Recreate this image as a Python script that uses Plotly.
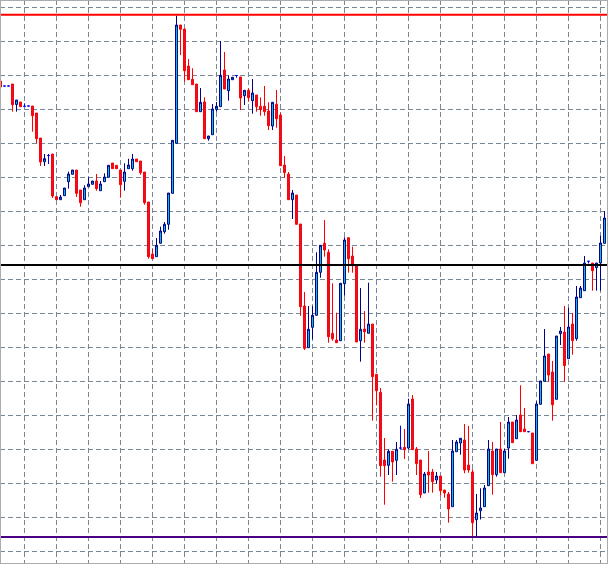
import numpy as np
import plotly.graph_objects as go

# Bar index (one candle per bar)
bar_index = list(range(152))

# Price values (chart price units)
open_ = [
    482, 477, 477, 479, 458.5, 461, 456.7, 457, 457, 450,
    425, 401.3, 407.5, 409, 366.3, 363.3, 367.3, 381.3, 388.7, 393,
    373, 363.3, 376.3, 378.7, 382, 372.3, 381.3, 385.7, 400, 397.7,
    393, 381.7, 394.3, 394.3, 404, 402, 391, 361, 309, 306.3,
    319.7, 331.3, 338.7, 369.7, 419.7, 538, 534, 497, 483.7, 479,
    451.3, 461, 424.3, 428.3, 453.7, 456.3, 493, 472.3, 483.3, 487.5,
    486, 467.3, 472.7, 462.3, 468, 456.7, 456.7, 452, 437, 458.7,
    448, 398, 389, 363.3, 368, 339, 257, 215.3, 235.7, 247.7,
    290.7, 319.7, 310.7, 229.7, 223, 222.3, 279.3, 325.3, 307, 298.3,
    222.3, 234, 229.7, 239, 188.7, 170.7, 103, 97.7, 111.7, 102.7,
    115, 115.7, 115, 164, 114, 103, 70, 91, 91, 83,
    87, 73, 69, 56.3, 111.3, 120, 123, 98, 91, 43.3,
    52.3, 56.3, 77.3, 112, 88.3, 114, 90.3, 115, 141, 124.3,
    148, 134, 131.3, 130, 102.7, 158.7, 181.7, 209, 191, 163.7,
    229.3, 231, 204.3, 239, 224.3, 265.3, 272.3, 301.7, 300, 295.3,
    300, 319.7,
]
high = [
    483, 477, 477, 479, 463, 461, 459.7, 457, 457, 450,
    425, 409, 409, 409, 366.3, 368, 375, 391.3, 393, 393,
    373, 377.7, 385.7, 382, 389, 382, 389.7, 397.7, 400, 397.7,
    393, 399.7, 404.3, 409, 404, 402, 391, 361, 314, 325,
    336.3, 341, 370, 422.7, 547.3, 538, 534, 504, 494.7, 479,
    475, 465.7, 427, 459, 461, 522, 511, 487.7, 485.7, 487.5,
    486, 472.7, 474.7, 484, 468, 465.7, 477, 460.7, 460.7, 473,
    450.3, 407, 391, 373, 368, 339, 271, 257, 257, 310.7,
    317.7, 343, 313.7, 279.7, 250.3, 279.7, 325.7, 325.3, 316.3, 298.3,
    275, 252, 280.3, 239, 188.7, 175, 125, 113.7, 111.7, 121,
    137.3, 134, 164.3, 168, 116, 103, 91, 112, 94, 91,
    87, 73, 71, 123, 123, 124.7, 139, 137, 93.7, 69,
    74.7, 78, 123, 121, 114, 141, 114, 146, 141, 148,
    177.7, 155, 131.3, 130, 161.7, 182, 234, 209, 202, 227,
    236, 257, 255.3, 250, 277, 277, 307, 301.7, 300, 300,
    327.3, 352,
]
low = [
    475, 477, 477, 451.3, 451.3, 456, 456.7, 457, 431.3, 419.7,
    397, 397, 399, 365, 363.3, 363.3, 367.3, 374.3, 388.7, 366,
    356.3, 363.3, 376.3, 378.7, 372.3, 372.3, 381.3, 385.7, 394.3, 394.3,
    365.3, 372.3, 394.3, 392.3, 401.3, 388.3, 358.3, 304.3, 304.3, 306.3,
    319.7, 329.3, 333.3, 369.7, 419.7, 508, 481.3, 483, 478.3, 451.3,
    451.3, 424.3, 422.3, 428.3, 451.3, 456.3, 474, 462.3, 483.3, 485.3,
    453, 458, 461.3, 449.3, 451.3, 447.3, 447.3, 433, 433, 435.3,
    397.3, 385.3, 363.3, 344, 338.7, 247.3, 213, 215.3, 223.7, 247.7,
    285.3, 306.3, 220.3, 222.3, 220.3, 222.3, 267.3, 290.3, 290.3, 221,
    201.3, 220.3, 229.7, 142.3, 157.7, 86.3, 58.3, 88, 81.3, 88,
    113.7, 104, 113.7, 113.3, 88, 65, 70, 70.3, 70.3, 79.3,
    67.3, 65.3, 40.3, 56.3, 111.3, 108.3, 89.7, 90.3, 26.3, 26.3,
    43.5, 56.3, 77.3, 68.3, 86.3, 90.3, 90.3, 104.3, 120.3, 124.3,
    131.3, 131.3, 131.3, 99.3, 102.7, 158.7, 181.7, 181.3, 142.3, 163.7,
    218, 181.3, 204.3, 208.3, 222.3, 265.3, 272.3, 299.5, 272.3, 272.3,
    272.3, 319.7,
]
close = [
    476, 477, 477, 458.3, 463, 456.3, 456.7, 457, 447.3, 424.3,
    401, 404.3, 407.5, 367, 363.3, 366, 375, 389, 393, 369.7,
    360.3, 375, 379, 382, 374.3, 379, 386, 397.7, 394.3, 394.3,
    378.3, 391, 398, 404, 401.3, 390.3, 360.3, 306.3, 304.3, 317.7,
    332, 338.7, 370, 422.7, 538, 533.7, 492.3, 483.3, 478.3, 451.3,
    460.7, 424.3, 427, 454, 456.7, 487.7, 474, 484, 485.7, 487.5,
    465, 472.7, 465.3, 470, 456.3, 453.3, 451.3, 437.3, 460.7, 444.3,
    397.3, 390.5, 363.3, 370, 338.7, 256.3, 214.7, 233.7, 247.7, 290.7,
    317.7, 313, 226.3, 224.3, 220.3, 279.7, 323, 304.3, 297.3, 221,
    233.7, 231.3, 239, 186.3, 172.3, 97.3, 97.3, 111.7, 101, 113.7,
    115, 113.3, 159, 113.3, 99.3, 68.3, 89, 88, 81.3, 87,
    72.3, 70, 54, 112, 121, 124.7, 93, 93, 40.3, 50,
    55, 75, 114, 88.3, 114, 90.3, 112, 141, 120.3, 143,
    131.3, 131.3, 131.3, 99.3, 159, 182, 207, 188, 158.3, 227,
    232, 197.5, 236, 222.5, 266, 275, 300, 301.7, 292.3, 300,
    320, 345,
]

# Horizontal level lines
level_high = 548.3
level_mid = 298
level_low = 26

x = np.array(bar_index)
o = np.array(open_)
h = np.array(high)
l = np.array(low)
c = np.array(close)
doji = o == c
norm = ~doji

fig = go.Figure()
fig.add_trace(go.Candlestick(
    x=x[norm], open=o[norm], high=h[norm], low=l[norm], close=c[norm],
    increasing=dict(line=dict(color="#00008B", width=1), fillcolor="#00CED1"),
    decreasing=dict(line=dict(color="#FF0000", width=1), fillcolor="#DC143C"),
    whiskerwidth=0, showlegend=False, hoverinfo="skip",
))
fig.add_trace(go.Candlestick(
    x=x[doji], open=o[doji], high=h[doji], low=l[doji], close=c[doji],
    increasing=dict(line=dict(color="#0000FF", width=1), fillcolor="#0000FF"),
    decreasing=dict(line=dict(color="#0000FF", width=1), fillcolor="#0000FF"),
    whiskerwidth=0, showlegend=False, hoverinfo="skip",
))

for val, col in [(level_high, "#FF0000"), (level_mid, "#000000"), (level_low, "#4B0082")]:
    fig.add_shape(type="line", xref="paper", x0=0, x1=1, yref="y", y0=val, y1=val,
                  line=dict(color=col, width=2))

fig.add_shape(type="rect", xref="paper", yref="paper", x0=0, x1=1, y0=0, y1=1,
              line=dict(color="#ABABAB", width=2), fillcolor="rgba(0,0,0,0)")

fig.update_layout(
    width=608, height=564,
    margin=dict(l=0, r=0, t=0, b=0),
    paper_bgcolor="white", plot_bgcolor="white",
    boxgap=0.3,
    xaxis=dict(range=[-0.125, 151.875], showticklabels=False, showgrid=True,
               gridcolor="#778899", griddash="5px,3px", gridwidth=1,
               tick0=6, dtick=8, zeroline=False, rangeslider=dict(visible=False),
               ticks="", showline=False),
    yaxis=dict(range=[-1, 563], showticklabels=False, showgrid=True,
               gridcolor="#778899", griddash="5px,3px", gridwidth=1,
               tick0=11.7, dtick=34, zeroline=False, ticks="", showline=False),
)

fig.write_html(
    "out.html",
    config={"displayModeBar": False},
    post_script="document.body.style.margin='0';document.body.style.padding='0';document.body.style.overflow='hidden';",
)
